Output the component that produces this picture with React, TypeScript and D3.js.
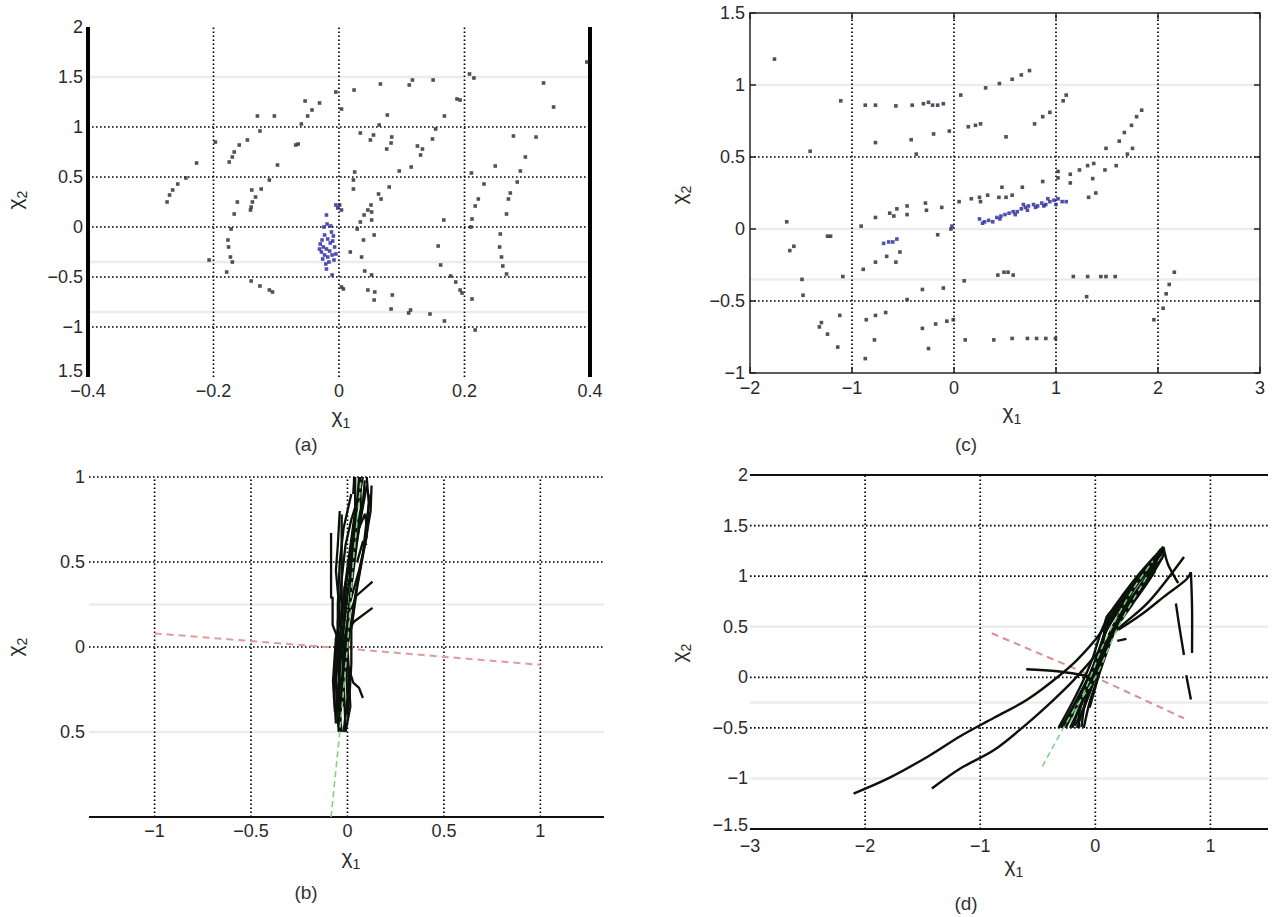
import React from "react";
import * as d3 from "d3";

type P = [number, number];

// ---------- Panel (a) data ----------
const aXTicks = [-0.4, -0.2, 0, 0.2, 0.4];
const aXLabels = ["−0.4", "−0.2", "0", "0.2", "0.4"];
const aYTicks = [2, 1.5, 1, 0.5, 0, -0.5, -1, -1.5];
const aYLabels = ["2", "1.5", "1", "0.5", "0", "−0.5", "−1", "1.5"];
const aScatterDark: P[] = [
  [-0.054, 1.26], [-0.031, 1.24], [-0.043, 1.17], [-0.05, 1.11], [-0.06, 1.03], [-0.005, 1.35], [0.004, 1.18],
  [-0.13, 1.11], [-0.103, 1.11], [-0.126, 0.96], [-0.065, 0.83], [-0.069, 0.82], [-0.146, 0.87], [-0.159, 0.82],
  [-0.167, 0.75], [-0.17, 0.7], [-0.175, 0.65], [-0.197, 0.85], [-0.227, 0.64], [-0.098, 0.62], [-0.244, 0.49],
  [-0.257, 0.43], [-0.265, 0.37], [-0.27, 0.32], [-0.274, 0.25], [-0.139, 0.37], [-0.124, 0.38], [-0.133, 0.3],
  [-0.138, 0.25], [-0.14, 0.2], [-0.141, 0.17], [-0.162, 0.25], [-0.167, 0.13], [-0.111, 0.47], [-0.172, -0.02],
  [-0.177, -0.13], [-0.176, -0.2], [-0.173, -0.3], [-0.17, -0.35], [-0.207, -0.33], [-0.179, -0.45], [-0.14, -0.54],
  [-0.126, -0.59], [-0.111, -0.63], [-0.106, -0.65],
  [0.024, 1.37], [0.066, 1.43], [0.112, 1.42], [0.117, 1.47], [0.15, 1.47], [0.077, 1.12], [0.168, 1.11],
  [0.188, 1.28], [0.193, 1.27], [0.208, 1.53], [0.215, 1.49], [0.326, 1.44], [0.342, 1.2], [0.395, 1.65],
  [0.064, 1.02], [0.034, 0.94], [0.055, 0.92], [0.05, 0.87], [0.084, 0.9], [0.083, 0.84], [0.076, 0.78],
  [0.149, 0.88], [0.154, 0.98], [0.133, 0.78], [0.13, 0.72], [0.125, 0.81], [0.115, 0.6], [0.096, 0.56],
  [0.025, 0.55], [0.023, 0.47], [0.023, 0.38], [0.08, 0.4], [0.067, 0.28], [0.063, 0.33], [0.051, 0.22],
  [0.046, 0.17], [0.052, 0.15], [0.04, 0.12], [0.034, 0.05], [0.052, 0.07], [0.029, -0.02], [0.056, -0.08],
  [0.039, -0.13], [0.018, -0.25], [0.036, -0.3], [0.041, -0.44], [0.052, -0.48], [0.007, -0.62], [0.046, -0.63],
  [0.057, -0.65], [0.085, -0.68], [0.056, -0.73], [0.083, -0.82], [0.114, -0.83], [0.111, -0.86], [0.145, -0.87],
  [0.168, -0.94], [0.167, 0.07], [0.158, -0.19], [0.162, -0.38], [0.178, -0.49], [0.186, -0.55], [0.193, -0.63],
  [0.196, -0.66], [0.212, -0.72], [0.217, -1.03], [0.211, 0.54], [0.231, 0.43], [0.222, 0.28], [0.217, 0.21],
  [0.212, 0.08], [0.21, 0.0], [0.249, 0.61], [0.278, 0.91], [0.314, 0.9], [0.297, 0.7], [0.289, 0.56],
  [0.284, 0.45], [0.273, 0.34], [0.27, 0.28], [0.267, 0.13], [0.257, -0.07], [0.256, -0.2], [0.259, -0.3],
  [0.261, -0.39], [0.267, -0.47], [0.004, -0.6], [0.001, 0.22], [0.004, 0.17],
];
const aScatterBlue: P[] = [
  [-0.005, 0.22], [-0.002, 0.19], [-0.02, 0.12], [-0.019, 0.03], [-0.024, 0.0], [-0.013, 0.01], [-0.023, -0.08],
  [-0.027, -0.13], [-0.018, -0.12], [-0.01, -0.14], [-0.025, -0.2], [-0.02, -0.22], [-0.015, -0.24], [-0.007, -0.2],
  [-0.023, -0.28], [-0.018, -0.3], [-0.011, -0.28], [-0.005, -0.27], [-0.021, -0.37], [-0.016, -0.35],
  [-0.02, -0.42], [-0.011, -0.48], [-0.03, -0.17], [-0.028, -0.25], [-0.012, -0.05], [-0.008, -0.33],
  [-0.026, -0.32], [-0.014, -0.16], [-0.031, -0.22], [-0.009, -0.09],
];

// ---------- Panel (c) data ----------
const cXTicks = [-2, -1, 0, 1, 2, 3];
const cXLabels = ["−2", "−1", "0", "1", "2", "3"];
const cYTicks = [1.5, 1, 0.5, 0, -0.5, -1];
const cYLabels = ["1.5", "1", "0.5", "0", "−0.5", "−1"];
const cScatterDark: P[] = [
  [-1.76, 1.18], [-1.11, 0.89], [-0.87, 0.86], [-0.77, 0.86], [-0.57, 0.855], [-0.41, 0.86], [-0.3, 0.87],
  [-0.25, 0.88], [-0.21, 0.86], [-0.16, 0.86], [-0.105, 0.87], [0.066, 0.93], [0.31, 0.98], [0.445, 1.01],
  [-0.77, 0.6], [-0.42, 0.62], [-0.2, 0.66], [-0.046, 0.68], [0.14, 0.71], [0.21, 0.72], [0.26, 0.73],
  [0.51, 0.64], [-1.41, 0.54], [-0.37, 0.52], [0.05, 0.19], [0.17, 0.21], [0.25, 0.22], [0.26, 0.19],
  [0.33, 0.235], [0.44, 0.22], [0.51, 0.22], [0.47, 0.29], [-0.12, 0.15], [-0.28, 0.18], [-0.27, 0.13],
  [-0.46, 0.16], [-0.46, 0.1], [-0.56, 0.14], [-0.63, 0.11], [-0.59, 0.09], [-0.77, 0.08], [-0.91, 0.02],
  [-1.21, -0.05], [-1.24, -0.05], [-1.64, 0.05], [-1.57, -0.12], [-1.61, -0.15], [-0.03, 0.0], [-0.16, -0.04],
  [-0.53, -0.16], [-0.66, -0.19], [-0.57, -0.23], [-0.77, -0.23], [-0.89, -0.28], [-1.09, -0.33], [-1.49, -0.35],
  [-1.48, -0.46], [-0.31, -0.42], [-0.105, -0.41], [0.1, -0.36], [-0.46, -0.49], [-1.12, -0.6], [-1.3, -0.65],
  [-1.32, -0.68], [-1.24, -0.73], [-1.14, -0.82], [-0.86, -0.63], [-0.77, -0.6], [-0.67, -0.58], [-0.78, -0.77],
  [-0.87, -0.9], [-0.31, -0.69], [-0.25, -0.83], [-0.07, -0.64], [-0.007, -0.63], [0.11, -0.77], [0.39, -0.77],
  [-0.18, -0.66],
  [0.57, 1.04], [0.66, 1.07], [0.74, 1.1], [1.07, 0.89], [1.1, 0.93], [0.94, 0.81], [0.87, 0.78], [0.79, 0.73],
  [1.84, 0.825], [1.79, 0.78], [1.74, 0.72], [1.67, 0.67], [1.62, 0.61], [1.49, 0.56], [1.75, 0.56], [1.7, 0.52],
  [1.59, 0.44], [1.48, 0.41], [1.37, 0.455], [1.31, 0.44], [1.23, 0.41], [1.14, 0.38], [1.36, 0.35], [1.14, 0.32],
  [1.02, 0.355], [1.02, 0.4], [1.39, 0.25], [1.32, 0.22], [0.87, 0.33], [0.67, 0.29], [0.57, 0.235], [0.53, -0.3],
  [0.58, -0.32], [1.17, -0.33], [1.31, -0.33], [1.44, -0.33], [1.49, -0.33], [1.58, -0.33], [1.3, -0.47],
  [2.16, -0.3], [2.11, -0.385], [2.08, -0.45], [2.05, -0.55], [1.96, -0.63], [0.57, -0.76], [0.72, -0.76],
  [0.81, -0.76], [0.9, -0.76], [0.995, -0.76], [0.43, -0.32], [0.49, -0.3],
];
const cScatterBlue: P[] = [
  [0.25, 0.07], [0.3, 0.05], [0.34, 0.06], [0.38, 0.05], [0.42, 0.08], [0.46, 0.09], [0.5, 0.1], [0.54, 0.11],
  [0.58, 0.12], [0.62, 0.12], [0.66, 0.14], [0.7, 0.15], [0.73, 0.16], [0.78, 0.17], [0.82, 0.16], [0.86, 0.18],
  [0.9, 0.17], [0.94, 0.19], [0.98, 0.2], [1.02, 0.21], [1.06, 0.19], [1.1, 0.19], [0.72, 0.13], [0.8, 0.15],
  [0.88, 0.16], [0.6, 0.1], [0.68, 0.17], [0.92, 0.21], [0.28, 0.04], [0.45, 0.07], [-0.69, -0.1], [-0.64, -0.09],
  [-0.6, -0.09], [-0.56, -0.07], [1.0, 0.17], [-0.02, 0.02],
];

// ---------- Panel (b) data ----------
const bXTicks = [-1, -0.5, 0, 0.5, 1];
const bXLabels = ["−1", "−0.5", "0", "0.5", "1"];
const bYTicks = [1, 0.5, 0, -0.5];
const bYLabels = ["1", "0.5", "0", "0.5"];
const bTrajectories: P[][] = [
  [[-0.03, -0.5], [-0.05, -0.3], [-0.03, 0], [0.0, 0.3], [0.03, 0.6], [0.05, 0.85], [0.06, 1.0]],
  [[-0.01, -0.48], [-0.02, -0.2], [-0.01, 0.05], [0.02, 0.35], [0.05, 0.62], [0.08, 0.85], [0.09, 0.98]],
  [[-0.05, -0.45], [-0.06, -0.2], [-0.04, 0.05], [-0.02, 0.3], [0.01, 0.55], [0.04, 0.8], [0.04, 1.0]],
  [[0.0, -0.4], [0.01, -0.2], [0.0, 0.0], [0.04, 0.3], [0.08, 0.55], [0.1, 0.75], [0.12, 0.9]],
  [[-0.04, -0.5], [-0.03, -0.25], [-0.02, 0.02], [0.01, 0.2], [0.02, 0.45], [0.06, 0.7], [0.1, 0.95]],
  [[-0.02, -0.35], [-0.05, -0.1], [-0.05, 0.15], [-0.03, 0.4], [-0.01, 0.6], [0.02, 0.75], [0.07, 0.93]],
  [[-0.035, -0.42], [-0.045, -0.15], [-0.035, 0.1], [-0.015, 0.35], [0.015, 0.5], [0.03, 0.7], [0.08, 1.0]],
  [[-0.06, -0.45], [-0.07, -0.25], [-0.05, 0.0], [-0.05, 0.25], [-0.04, 0.5], [-0.02, 0.7], [0.02, 0.9]],
  [[0.01, -0.3], [0.02, -0.1], [0.02, 0.1], [0.05, 0.35], [0.09, 0.6], [0.12, 0.8], [0.125, 0.95]],
  [[-0.02, -0.5], [0.0, -0.3], [-0.01, -0.05], [0.01, 0.25], [0.06, 0.45], [0.1, 0.65], [0.11, 0.85], [0.1, 1.0]],
  [[-0.07, -0.3], [-0.06, -0.05], [-0.04, 0.2], [-0.06, 0.45], [-0.05, 0.6], [-0.04, 0.8]],
  [[-0.045, -0.5], [-0.055, -0.35], [-0.04, -0.1], [-0.02, 0.15], [0.0, 0.45], [0.04, 0.65], [0.07, 0.82], [0.065, 1.0]],
  [[-0.065, -0.38], [-0.075, -0.2], [-0.06, 0.05], [-0.03, 0.2]],
  [[-0.01, -0.5], [0.015, -0.35], [0.005, -0.15], [-0.01, 0.05]],
  [[-0.085, 0.67], [-0.085, 0.29], [-0.077, 0.29], [-0.077, 0.13], [-0.05, 0.05]],
  [[-0.03, 0.78], [-0.03, 0.37], [-0.03, 0.15]],
  [[0.02, 0.22], [0.045, 0.3], [0.13, 0.385]],
  [[0.0, 0.1], [0.035, 0.15], [0.13, 0.23]],
  [[0.0, -0.1], [0.03, -0.21], [0.06, -0.24], [0.08, -0.3]],
  [[0.05, 0.5], [0.08, 0.62], [0.1, 0.6]],
  [[0.06, 0.7], [0.09, 0.78], [0.1, 0.72]],
  [[0.03, 0.9], [0.035, 1.0]],
];
const bGreen: P[] = [[-0.085, -1], [-0.04, -0.5], [0.0, 0.0], [0.03, 0.5], [0.07, 0.98]];
const bRed: P[] = [[-1, 0.08], [0, -0.01], [1, -0.105]];

// ---------- Panel (d) data ----------
const dXTicks = [-3, -2, -1, 0, 1];
const dXLabels = ["−3", "−2", "−1", "0", "1"];
const dYTicks = [2, 1.5, 1, 0.5, 0, -0.5, -1, -1.5];
const dYLabels = ["2", "1.5", "1", "0.5", "0", "−0.5", "−1", "−1.5"];
const dTrajectories: P[][] = [
  [[-2.1, -1.15], [-1.8, -1.0], [-1.45, -0.78], [-1.17, -0.58], [-0.88, -0.4], [-0.59, -0.22], [-0.33, 0.0],
    [-0.16, 0.17], [0.04, 0.43], [0.16, 0.65], [0.3, 0.85], [0.45, 1.1], [0.59, 1.29]],
  [[-1.42, -1.1], [-1.17, -0.9], [-0.88, -0.72], [-0.59, -0.455], [-0.36, -0.22], [-0.19, -0.03], [-0.01, 0.2],
    [0.19, 0.47], [0.45, 0.73], [0.77, 1.19]],
  [[-0.28, -0.49], [-0.15, -0.2], [-0.04, 0.05], [0.05, 0.3], [0.12, 0.55], [0.25, 0.8], [0.4, 1.0], [0.55, 1.2], [0.59, 1.29]],
  [[-0.12, -0.49], [-0.08, -0.2], [0.0, 0.05], [0.08, 0.3], [0.15, 0.5], [0.3, 0.75], [0.45, 0.98], [0.58, 1.18]],
  [[-0.22, -0.5], [-0.12, -0.25], [-0.05, 0.0], [0.03, 0.25], [0.1, 0.5], [0.2, 0.68], [0.35, 0.9], [0.5, 1.12]],
  [[-0.18, -0.48], [-0.1, -0.3], [-0.02, -0.05], [0.04, 0.2], [0.14, 0.45], [0.28, 0.7], [0.4, 0.88], [0.56, 1.22]],
  [[-0.3, -0.5], [-0.2, -0.3], [-0.08, -0.05], [0.0, 0.15], [0.08, 0.42], [0.18, 0.62], [0.32, 0.85], [0.47, 1.08], [0.6, 1.25]],
  [[-0.14, -0.5], [-0.14, -0.35], [-0.06, -0.1], [0.02, 0.12], [0.12, 0.38], [0.22, 0.58], [0.38, 0.82], [0.52, 1.05]],
  [[-0.25, -0.45], [-0.16, -0.28], [-0.06, -0.02], [0.06, 0.3], [0.1, 0.6], [0.2, 0.72], [0.34, 0.95], [0.5, 1.15], [0.58, 1.25]],
  [[-0.2, -0.5], [-0.09, -0.15], [0.01, 0.1], [0.1, 0.35], [0.2, 0.6], [0.36, 0.92], [0.53, 1.18]],
  [[-0.32, -0.5], [-0.2, -0.25], [-0.1, -0.02], [-0.02, 0.2], [0.05, 0.45], [0.12, 0.62], [0.25, 0.83], [0.38, 1.02], [0.52, 1.2]],
  [[-0.1, -0.5], [-0.05, -0.25], [0.03, 0.02], [0.1, 0.25], [0.18, 0.48], [0.32, 0.72], [0.46, 0.95], [0.6, 1.22]],
  [[-0.26, -0.5], [-0.18, -0.33], [-0.1, -0.12], [-0.03, 0.08], [0.06, 0.36], [0.15, 0.6], [0.3, 0.85], [0.44, 1.05], [0.57, 1.27]],
  [[-0.16, -0.5], [-0.06, -0.18], [0.02, 0.06], [0.12, 0.42], [0.22, 0.64], [0.36, 0.86], [0.5, 1.1], [0.6, 1.28]],
  [[-0.05, -0.3], [0.0, -0.1], [0.06, 0.15], [0.14, 0.4], [0.26, 0.66], [0.42, 0.93], [0.55, 1.14]],
  [[0.59, 1.29], [0.63, 1.12], [0.67, 1.03], [0.72, 0.93]],
  [[0.2, 0.47], [0.4, 0.62], [0.6, 0.8], [0.8, 0.98], [0.83, 1.04]],
  [[0.83, 1.04], [0.84, 0.7], [0.84, 0.24]],
  [[0.7, 0.73], [0.73, 0.5], [0.77, 0.22]],
  [[0.79, 0.02], [0.81, -0.1], [0.83, -0.22]],
  [[-0.6, 0.08], [-0.33, 0.06], [-0.1, 0.02], [0.0, 0.0]],
  [[0.19, 0.36], [0.27, 0.38]],
];
const dGreen: P[][] = [
  [[-0.46, -0.88], [-0.2, -0.35], [0.0, 0.0], [0.2, 0.5], [0.45, 1.0]],
  [[-0.22, -0.45], [-0.08, -0.1], [0.08, 0.35], [0.3, 0.82], [0.5, 1.15]],
];
const dRed: P[] = [[-0.9, 0.435], [0.0, 0.0], [0.77, -0.405]];

// ---------- layout ----------
const FONT = "'Liberation Sans', Arial, Helvetica, sans-serif";
const gridDash = "1.6 2.4";

type Panel = {
  xDomain: [number, number]; yDomain: [number, number];
  xRange: [number, number]; yRange: [number, number];
  gridX: number[]; gridY: number[]; faintY: number[];
  xTicks: number[]; xLabels: string[]; yTicks: number[]; yLabels: string[];
  xLabelDy: number; yLabelX: number;
};

const panelA: Panel = {
  xDomain: [-0.4, 0.4], yDomain: [-1.5, 2], xRange: [88, 590], yRange: [377, 27],
  gridX: [-0.2, 0, 0.2], gridY: [1, 0.5, 0, -0.5, -1], faintY: [1.5, -0.35, -0.85],
  xTicks: aXTicks, xLabels: aXLabels, yTicks: aYTicks, yLabels: aYLabels, xLabelDy: 14, yLabelX: 83,
};
const panelC: Panel = {
  xDomain: [-2, 3], yDomain: [-1, 1.5], xRange: [750, 1260], yRange: [373, 13],
  gridX: [-1, 0, 1, 2], gridY: [0.5, -0.5], faintY: [1, 0, -0.35],
  xTicks: cXTicks, xLabels: cXLabels, yTicks: cYTicks, yLabels: cYLabels, xLabelDy: 15, yLabelX: 745,
};
const panelB: Panel = {
  xDomain: [-1.34, 1.33], yDomain: [-1, 1], xRange: [89, 604], yRange: [817, 477],
  gridX: [-1, -0.5, 0, 0.5, 1], gridY: [1, 0.5, 0], faintY: [-0.5, 0.25],
  xTicks: bXTicks, xLabels: bXLabels, yTicks: bYTicks, yLabels: bYLabels, xLabelDy: 14, yLabelX: 85,
};
const panelD: Panel = {
  xDomain: [-3, 1.5], yDomain: [-1.5, 2], xRange: [750, 1268], yRange: [829, 475],
  gridX: [-2, -1, 0, 1], gridY: [1.5, 1, 0, -0.5], faintY: [0.5, -1, -0.25],
  xTicks: dXTicks, xLabels: dXLabels, yTicks: dYTicks, yLabels: dYLabels, xLabelDy: 17, yLabelX: 748,
};

function scales(p: Panel) {
  const x = d3.scaleLinear().domain(p.xDomain).range(p.xRange);
  const y = d3.scaleLinear().domain(p.yDomain).range(p.yRange);
  return { x, y };
}

function Grid({ p }: { p: Panel }) {
  const { x, y } = scales(p);
  return (
    <g>
      {p.faintY.map((v, i) => (
        <line key={"f" + i} x1={p.xRange[0]} x2={p.xRange[1]} y1={y(v)} y2={y(v)} stroke="#ececec" strokeWidth={2.5} />
      ))}
      {p.gridX.map((v, i) => (
        <line key={"gx" + i} x1={x(v)} x2={x(v)} y1={p.yRange[0]} y2={p.yRange[1]} stroke="#000" strokeWidth={1.7} strokeDasharray={gridDash} />
      ))}
      {p.gridY.map((v, i) => (
        <line key={"gy" + i} x1={p.xRange[0]} x2={p.xRange[1]} y1={y(v)} y2={y(v)} stroke="#000" strokeWidth={1.7} strokeDasharray={gridDash} />
      ))}
    </g>
  );
}

function TickLabels({ p, lastYShift = 0 }: { p: Panel; lastYShift?: number }) {
  const { x, y } = scales(p);
  return (
    <g fontFamily={FONT} fontSize={18} fill="#2a2a2a">
      {p.xTicks.map((v, i) => (
        <text key={"xt" + i} x={x(v)} y={p.yRange[0] + p.xLabelDy} textAnchor="middle" dominantBaseline="central">
          {p.xLabels[i]}
        </text>
      ))}
      {p.yTicks.map((v, i) => (
        <text
          key={"yt" + i}
          x={p.yLabelX}
          y={y(v) + (i === p.yTicks.length - 1 ? lastYShift : 0)}
          textAnchor="end"
          dominantBaseline="central"
        >
          {p.yLabels[i]}
        </text>
      ))}
    </g>
  );
}

function Dots({ p, pts, color }: { p: Panel; pts: P[]; color: string }) {
  const { x, y } = scales(p);
  return (
    <g fill={color}>
      {pts.map((d, i) => (
        <rect key={i} x={x(d[0]) - 1.8} y={y(d[1]) - 1.8} width={3.6} height={3.6} opacity={0.82} />
      ))}
    </g>
  );
}

function Lines({ p, lines, stroke, width, dash, smooth }: { p: Panel; lines: P[][]; stroke: string; width: number; dash?: string; smooth?: boolean }) {
  const { x, y } = scales(p);
  const gen = d3.line<P>().x((d) => x(d[0])).y((d) => y(d[1]));
  if (smooth) gen.curve(d3.curveCatmullRom.alpha(0.5));
  return (
    <g fill="none" stroke={stroke} strokeWidth={width} strokeDasharray={dash} strokeLinejoin="round">
      {lines.map((l, i) => (
        <path key={i} d={gen(l) || ""} />
      ))}
    </g>
  );
}

function AxisTitle({ x, y, sub, rotate }: { x: number; y: number; sub: string; rotate?: boolean }) {
  return (
    <text
      x={x}
      y={y}
      fontFamily={FONT}
      fontSize={21}
      fill="#2a2a2a"
      textAnchor="middle"
      transform={rotate ? `rotate(-90 ${x} ${y})` : undefined}
    >
      χ<tspan fontSize={14} dy={5}>{sub}</tspan>
    </text>
  );
}

function Caption({ x, y, t }: { x: number; y: number; t: string }) {
  return (
    <text x={x} y={y} fontFamily={FONT} fontSize={19} fill="#333" textAnchor="middle">
      {t}
    </text>
  );
}

export default function App() {
  const sa = scales(panelA);
  const sc = scales(panelC);
  const sb = scales(panelB);
  const sd = scales(panelD);
  return (
    <div style={{ position: "absolute", left: 0, top: 0 }}>
      <svg width={1280} height={917} viewBox="0 0 1280 917" style={{ display: "block", background: "#fff" }}>
        <rect x={0} y={0} width={1280} height={917} fill="#fff" />

        {/* Panel (a) */}
        <Grid p={panelA} />
        <line x1={sa.x(-0.4)} x2={sa.x(-0.4)} y1={sa.y(2)} y2={sa.y(-1.5)} stroke="#000" strokeWidth={4} />
        <line x1={sa.x(0.4)} x2={sa.x(0.4)} y1={sa.y(2)} y2={sa.y(-1.5)} stroke="#000" strokeWidth={4} />
        <Dots p={panelA} pts={aScatterDark} color="#2b2b3a" />
        <Dots p={panelA} pts={aScatterBlue} color="#2a2aa0" />
        <TickLabels p={panelA} lastYShift={-6} />
        <AxisTitle x={341} y={423} sub="1" />
        <AxisTitle x={22} y={200} sub="2" rotate />
        <Caption x={306} y={451} t="(a)" />

        {/* Panel (c) */}
        <Grid p={panelC} />
        <rect x={panelC.xRange[0]} y={panelC.yRange[1]} width={panelC.xRange[1] - panelC.xRange[0]} height={panelC.yRange[0] - panelC.yRange[1]} fill="none" stroke="#333" strokeWidth={1.6} />
        {cYTicks.map((v, i) => (
          <g key={"ct" + i}>
            <line x1={panelC.xRange[0]} x2={panelC.xRange[0] + 6} y1={sc.y(v)} y2={sc.y(v)} stroke="#222" strokeWidth={1.5} />
            <line x1={panelC.xRange[1]} x2={panelC.xRange[1] - 6} y1={sc.y(v)} y2={sc.y(v)} stroke="#222" strokeWidth={1.5} />
          </g>
        ))}
        {cXTicks.map((v, i) => (
          <g key={"cx" + i}>
            <line x1={sc.x(v)} x2={sc.x(v)} y1={panelC.yRange[0]} y2={panelC.yRange[0] - 6} stroke="#222" strokeWidth={1.5} />
            <line x1={sc.x(v)} x2={sc.x(v)} y1={panelC.yRange[1]} y2={panelC.yRange[1] + 6} stroke="#222" strokeWidth={1.5} />
          </g>
        ))}
        <Dots p={panelC} pts={cScatterDark} color="#2b2b3a" />
        <Dots p={panelC} pts={cScatterBlue} color="#2a2aa0" />
        <TickLabels p={panelC} />
        <AxisTitle x={1012} y={419} sub="1" />
        <AxisTitle x={686} y={195} sub="2" rotate />
        <Caption x={966} y={451} t="(c)" />

        {/* Panel (b) */}
        <Grid p={panelB} />
        <line x1={panelB.xRange[0]} x2={panelB.xRange[1]} y1={sb.y(-1)} y2={sb.y(-1)} stroke="#111" strokeWidth={1.8} />
        <Lines p={panelB} lines={[bRed]} stroke="#e39a9a" width={2} dash="7 5" />
        <Lines p={panelB} lines={bTrajectories} stroke="#0b120b" width={2.3} />
        <Lines p={panelB} lines={[bGreen]} stroke="#7fd07f" width={1.6} dash="6 4" />
        <TickLabels p={panelB} />
        <AxisTitle x={351} y={864} sub="1" />
        <AxisTitle x={22} y={647} sub="2" rotate />
        <Caption x={306} y={899} t="(b)" />

        {/* Panel (d) */}
        <Grid p={panelD} />
        <line x1={panelD.xRange[0]} x2={panelD.xRange[1]} y1={sd.y(2)} y2={sd.y(2)} stroke="#111" strokeWidth={1.8} />
        <line x1={panelD.xRange[0]} x2={panelD.xRange[1]} y1={sd.y(-1.5)} y2={sd.y(-1.5)} stroke="#111" strokeWidth={1.8} />
        <Lines p={panelD} lines={[dRed]} stroke="#d89090" width={2} dash="7 5" />
        <Lines p={panelD} lines={dTrajectories} stroke="#0b120b" width={2.4} smooth />
        <Lines p={panelD} lines={dGreen} stroke="#7fd07f" width={1.5} dash="6 4" smooth />
        <TickLabels p={panelD} lastYShift={-4} />
        <AxisTitle x={1014} y={872} sub="1" />
        <AxisTitle x={686} y={653} sub="2" rotate />
        <Caption x={966} y={910} t="(d)" />
      </svg>
    </div>
  );
}
